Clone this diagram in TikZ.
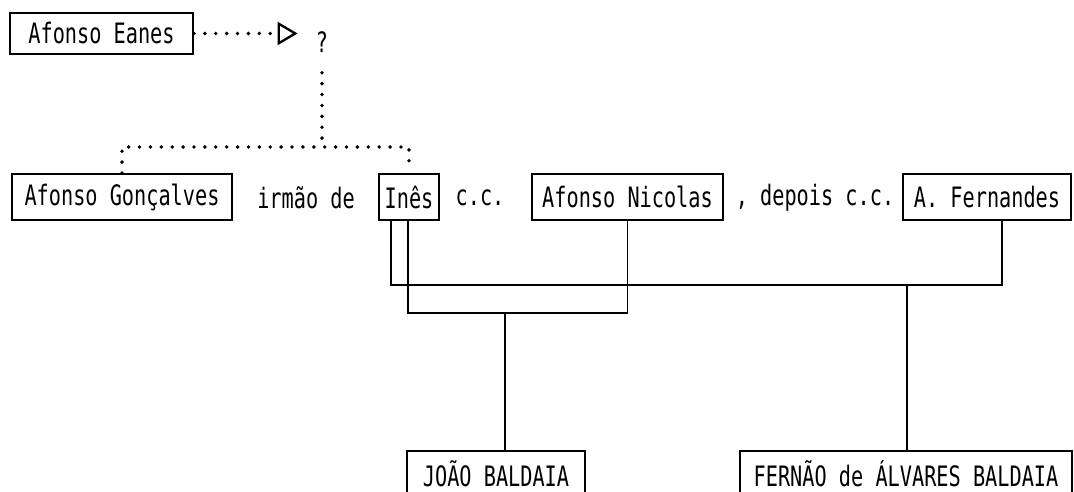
\documentclass[tikz,border=0pt]{standalone}
\usepackage{fontspec}
\setmonofont[FakeStretch=0.72]{DejaVu Sans Mono}
\usetikzlibrary{arrows.meta, positioning, calc}

\begin{document}
\begin{tikzpicture}[
        x=0.02cm, y=-0.02cm,
        txt/.style={font=\ttfamily\fontsize{16}{18}\selectfont, inner sep=0pt},
        person/.style={txt, rectangle, draw=black, line width=1.1pt, minimum height=0.92cm},
        kin/.style={draw=black, line width=1.1pt},
        dotline/.style={draw=black, line width=2.2pt, line cap=round, dash pattern=on 0pt off 6.2pt},
        dotarr/.style={dotline, -{Triangle[open, length=0.4cm, width=0.46cm, line width=1.3pt]}},
    ]
        \useasboundingbox (0,0) rectangle (1074,492);

        % Ancestor
        \node[person, minimum width=3.66cm, minimum height=0.82cm] (eanes) at (101.5,33.5) {Afonso Eanes};
        \node[txt] (q) at (322,42) {?};

        % Siblings and marriages
        \node[person, minimum width=4.4cm]  (goncalves) at (122,197)   {Afonso Gonçalves};
        \node[txt]                          (irmao)     at (306,198)   {irmão de};
        \node[person, minimum width=1.2cm]  (ines)      at (409,197)   {Inês};
        \node[txt]                          (cc)        at (480,198)   {c.c.};
        \node[person, minimum width=3.82cm] (nicolas)   at (627.5,197) {Afonso Nicolas};
        \node[txt]                          (depois)    at (815,198)   {, depois c.c.};
        \node[person, minimum width=3.36cm] (fernandes) at (987,197)   {A. Fernandes};

        % Children
        \node[person, minimum width=3.56cm] (joao)   at (496,474) {JOÃO BALDAIA};
        \node[person, minimum width=6.64cm] (fernao) at (906,474) {FERNÃO de ÁLVARES BALDAIA};

        % Junction points
        \coordinate (jn) at (322,147);
        \coordinate (m1) at (505,313);
        \coordinate (m2) at (907,285);

        % Dotted: uncertain descent
        \draw[dotarr, shorten >=0.36cm] (eanes.east) -- (eanes.east -| q.west);
        \draw[dotline] ([yshift=-0.4cm]q.south) -- (jn);
        \draw[dotline, shorten >=0.12cm] (goncalves.north) |- (jn) -| (ines.north);

        % Marriages
        \draw[kin] ([xshift=-0.36cm]ines.south) |- (m2) -| ([xshift=0.3cm]fernandes.south);
        \draw[kin] ([xshift=-0.02cm]ines.south) |- (m1) -| (nicolas.south);

        % Descendants
        \draw[kin] (m1) -- (m1 |- joao.north);
        \draw[kin] (m2) -- (m2 |- fernao.north);

    \end{tikzpicture}
\end{document}
